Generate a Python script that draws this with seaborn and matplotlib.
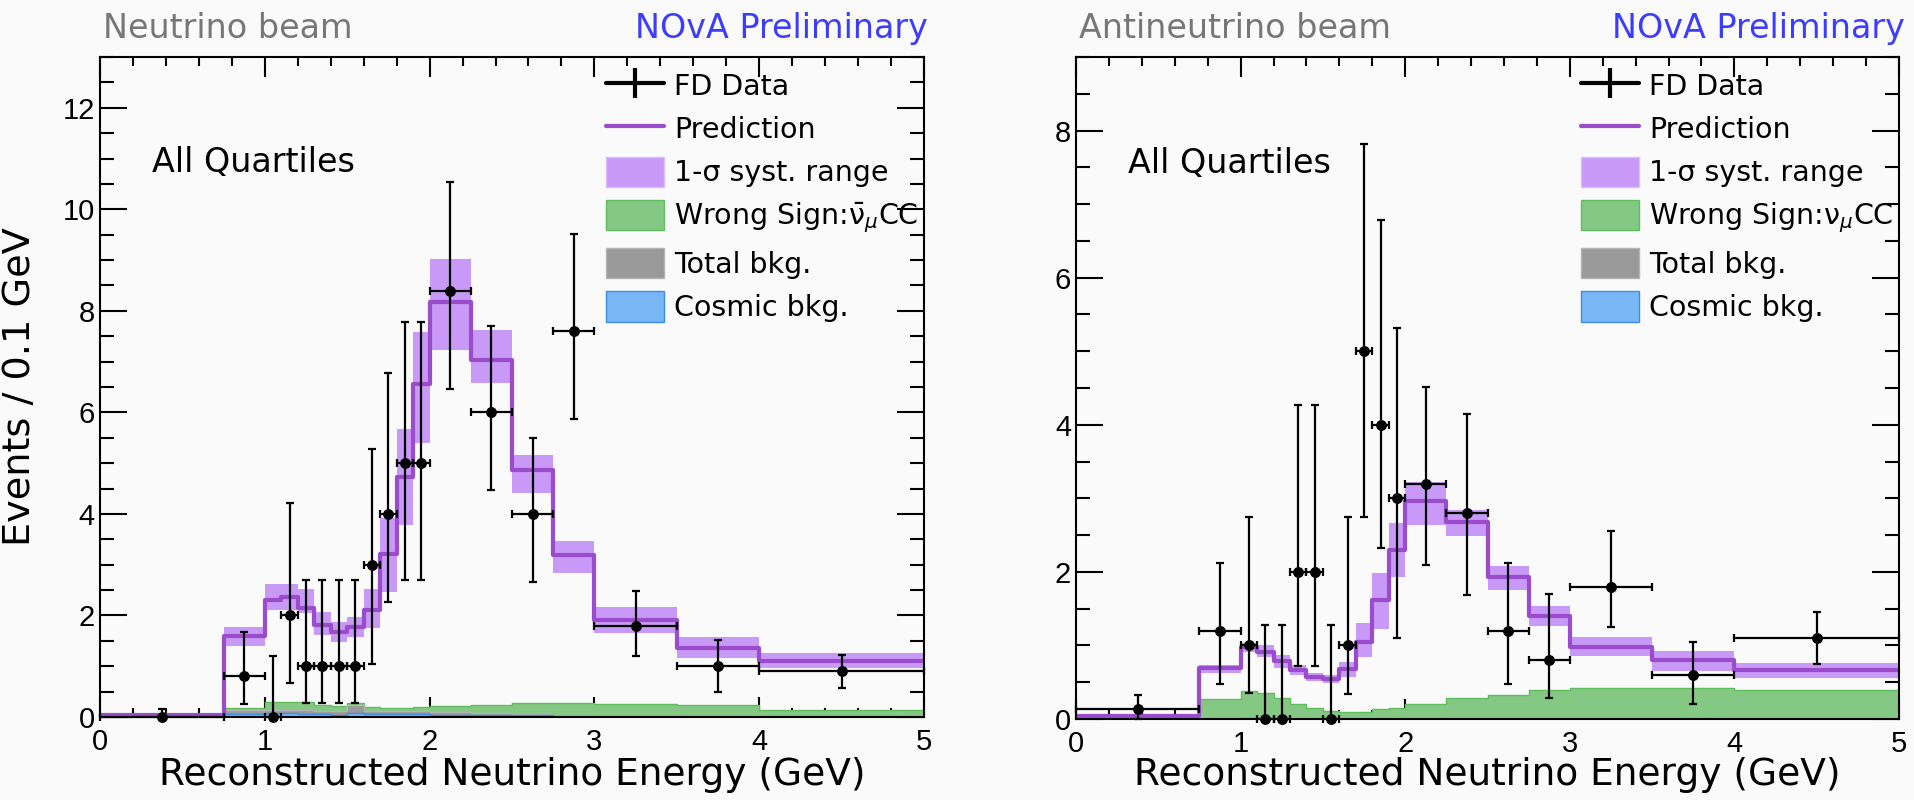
import numpy as np
import matplotlib
matplotlib.use("Agg")
import matplotlib.pyplot as plt
from matplotlib.lines import Line2D
from matplotlib.patches import Patch
from matplotlib.ticker import MultipleLocator
import seaborn as sns

# Reconstructed-energy binning (GeV), shared by both beams
edges = [0.0, 0.75, 1.0, 1.1, 1.2, 1.3, 1.4, 1.5, 1.6, 1.7, 1.8, 1.9, 2.0,
         2.25, 2.5, 2.75, 3.0, 3.5, 4.0, 5.0]

# ---- Neutrino beam ----
nu_pred = [0.04, 1.60, 2.30, 2.36, 2.14, 1.82, 1.68, 1.78, 2.11, 3.22, 4.73,
           6.55, 8.18, 7.04, 4.86, 3.20, 1.91, 1.36, 1.11]
nu_syst_lo = [0.02, 1.40, 2.11, 2.11, 2.04, 1.61, 1.48, 1.58, 1.75, 2.47, 3.78,
              5.40, 7.22, 6.57, 4.42, 2.84, 1.65, 1.16, 0.96]
nu_syst_hi = [0.06, 1.77, 2.62, 2.62, 2.53, 2.07, 1.88, 1.97, 2.53, 3.91, 5.68,
              7.58, 9.03, 7.62, 5.16, 3.47, 2.16, 1.57, 1.27]
nu_wrong_sign = [0.0, 0.17, 0.30, 0.30, 0.29, 0.24, 0.21, 0.27, 0.20, 0.17, 0.18,
                 0.19, 0.22, 0.23, 0.27, 0.27, 0.26, 0.24, 0.14]
nu_total_bkg = [0.0, 0.13, 0.14, 0.14, 0.13, 0.11, 0.12, 0.23, 0.11, 0.12, 0.11,
                0.11, 0.10, 0.08, 0.06, 0.0, 0.0, 0.0, 0.0]
nu_cosmic = [0.0, 0.05, 0.07, 0.07, 0.06, 0.05, 0.04, 0.08, 0.06, 0.06, 0.05,
             0.05, 0.04, 0.03, 0.03, 0.0, 0.0, 0.0, 0.0]
nu_data = [0.0, 0.8, 0.0, 2.0, 1.0, 1.0, 1.0, 1.0, 3.0, 4.0, 5.0, 5.0, 8.4,
           6.0, 4.0, 7.6, 1.8, 1.0, 0.9]
nu_data_lo = [0.0, 0.26, 0.0, 0.66, 0.28, 0.28, 0.28, 0.28, 1.04, 2.27, 2.70,
              2.70, 6.47, 4.48, 2.65, 5.87, 1.21, 0.50, 0.58]
nu_data_hi = [0.16, 1.68, 1.20, 4.22, 2.70, 2.70, 2.70, 2.70, 5.28, 6.77, 7.78,
              7.78, 10.53, 7.70, 5.49, 9.51, 2.49, 1.52, 1.22]

# ---- Antineutrino beam ----
anu_pred = [0.04, 0.69, 0.98, 0.91, 0.79, 0.67, 0.57, 0.54, 0.68, 1.05, 1.62,
            2.30, 2.96, 2.68, 1.93, 1.40, 0.98, 0.80, 0.66]
anu_syst_lo = [0.02, 0.62, 0.91, 0.84, 0.70, 0.60, 0.51, 0.49, 0.57, 0.84, 1.23,
               1.93, 2.64, 2.49, 1.76, 1.27, 0.85, 0.65, 0.56]
anu_syst_hi = [0.06, 0.74, 1.03, 1.00, 0.87, 0.73, 0.62, 0.60, 0.78, 1.31, 1.98,
               2.66, 3.22, 2.84, 2.08, 1.53, 1.12, 0.92, 0.76]
anu_wrong_sign = [0.0, 0.27, 0.38, 0.35, 0.29, 0.20, 0.15, 0.11, 0.09, 0.10, 0.13,
                  0.15, 0.20, 0.29, 0.32, 0.39, 0.42, 0.42, 0.39]
anu_total_bkg = [0.0, 0.01, 0.02, 0.02, 0.02, 0.01, 0.01, 0.02, 0.01, 0.01, 0.01,
                 0.01, 0.01, 0.01, 0.0, 0.0, 0.0, 0.0, 0.0]
anu_cosmic = [0.0, 0.0, 0.02, 0.02, 0.02, 0.0, 0.0, 0.02, 0.0, 0.0, 0.0,
              0.0, 0.0, 0.0, 0.0, 0.0, 0.0, 0.0, 0.0]
anu_data = [0.13, 1.2, 1.0, 0.0, 0.0, 2.0, 2.0, 0.0, 1.0, 5.0, 4.0, 3.0, 3.2,
            2.8, 1.2, 0.8, 1.8, 0.6, 1.1]
anu_data_lo = [0.0, 0.48, 0.35, 0.0, 0.0, 0.72, 0.72, 0.0, 0.34, 2.74, 2.33,
               1.10, 2.09, 1.68, 0.48, 0.29, 1.25, 0.20, 0.75]
anu_data_hi = [0.33, 2.12, 2.74, 1.28, 1.28, 4.27, 4.27, 1.28, 2.74, 7.82, 6.78,
               5.31, 4.52, 4.14, 2.12, 1.70, 2.55, 1.05, 1.46]

legend_labels_nu = ["FD Data", "Prediction", "1-\u03c3 syst. range",
                    r"Wrong Sign:$\bar{\mathrm{\nu}}_{\mu}$CC", "Total bkg.", "Cosmic bkg."]
legend_labels_anu = ["FD Data", "Prediction", "1-\u03c3 syst. range",
                     r"Wrong Sign:$\mathrm{\nu}_{\mu}$CC", "Total bkg.", "Cosmic bkg."]

# Colours
BG = "#fafafa"
PURPLE = "#9a4ccd"
BAND = "#c999f8"
BAND_EDGE = "#dcbcfb"
GREEN = "#84c884"
GREEN_EDGE = "#5fbf5f"
GREY = "#999999"
GREY_EDGE = "#b4b4b4"
BLUE = "#78b6f6"
BLUE_EDGE = "#3a8ee8"

sns.set_theme(style="ticks", rc={"axes.facecolor": BG, "figure.facecolor": BG,
                                 "text.color": "black", "axes.labelcolor": "black",
                                 "xtick.color": "black", "ytick.color": "black"})
plt.rcParams["font.family"] = ["DejaVu Sans"]
plt.rcParams["mathtext.fontset"] = "dejavusans"
plt.rcParams["axes.linewidth"] = 1.5

TICK_FONT = ["Liberation Sans", "DejaVu Sans"]

edges_a = np.asarray(edges)
centers = 0.5 * (edges_a[:-1] + edges_a[1:])
halfw = 0.5 * np.diff(edges_a)


def draw_panel(ax, pred, syst_lo, syst_hi, wrong, total, cosmic,
               data, data_lo, data_hi, ymax, labels):
    # 1-sigma systematic band around the prediction
    ax.stairs(syst_hi, edges_a, baseline=syst_lo, fill=True, color=BAND,
              lw=0, zorder=1)
    # backgrounds, each filled from zero
    for w, fc, ec in ((wrong, GREEN, GREEN_EDGE), (total, GREY, GREY_EDGE),
                      (cosmic, BLUE, BLUE_EDGE)):
        sns.histplot(x=centers, weights=w, bins=edges, element="step",
                     fill=True, color=fc, alpha=1.0, edgecolor=ec,
                     linewidth=1.0, ax=ax, zorder=2)
    # central prediction
    sns.histplot(x=centers, weights=pred, bins=edges, element="step",
                 fill=False, color=PURPLE, linewidth=3.0, ax=ax, zorder=3)
    # far-detector data
    d = np.asarray(data)
    yerr = [d - np.asarray(data_lo), np.asarray(data_hi) - d]
    ax.errorbar(centers, d, xerr=halfw, yerr=yerr, fmt="o", color="black",
                ms=6.8, elinewidth=1.6, capsize=3.0, capthick=1.6, zorder=5,
                clip_on=False)

    ax.set_xlim(0, 5)
    ax.set_ylim(0, ymax)
    ax.xaxis.set_major_locator(MultipleLocator(1))
    ax.xaxis.set_minor_locator(MultipleLocator(0.2))
    ax.yaxis.set_major_locator(MultipleLocator(2))
    ax.yaxis.set_minor_locator(MultipleLocator(0.5))
    ax.tick_params(which="both", direction="in", top=True, right=True,
                   width=1.5, color="black", labelsize=21)
    ax.tick_params(axis="x", which="major", length=14.4, pad=8.0)
    ax.tick_params(axis="x", which="minor", length=6.8)
    ax.tick_params(axis="y", which="major", length=19.2, pad=3.6)
    ax.tick_params(axis="y", which="minor", length=10)
    for lab in ax.get_xticklabels() + ax.get_yticklabels():
        lab.set_family(TICK_FONT)
    for s in ax.spines.values():
        s.set_linewidth(1.5)
        s.set_color("black")
        s.set_zorder(6)

    ax.set_ylabel("")
    ax.set_xlabel("Reconstructed Neutrino Energy (GeV)", fontsize=27)
    ax.xaxis.label.set_va("baseline")

    ax.text(0.063, 0.825, "All Quartiles", transform=ax.transAxes,
            fontsize=24, va="baseline", ha="left", color="black")

    handles = [
        (Line2D([0], [0], color="black", lw=3.0),
         Line2D([0], [0], color="black", marker="|", ms=22, mew=3.0, ls="none")),
        Line2D([0], [0], color=PURPLE, lw=3.0),
        Patch(facecolor=BAND, edgecolor=BAND_EDGE, lw=1.0),
        Patch(facecolor=GREEN, edgecolor=GREEN_EDGE, lw=1.0),
        Patch(facecolor=GREY, edgecolor=GREY_EDGE, lw=1.0),
        Patch(facecolor=BLUE, edgecolor=BLUE_EDGE, lw=1.0),
    ]
    leg = ax.legend(handles, labels, loc="upper left",
                    bbox_to_anchor=(0.614, 0.980), frameon=False,
                    fontsize=20.5, handlelength=2.04, handleheight=1.26,
                    handletextpad=0.35, labelspacing=0.44, borderpad=0,
                    borderaxespad=0)
    leg.set_zorder(7)


fig = plt.figure(figsize=(19.15, 8.0), dpi=100)
ax1 = fig.add_axes([100 / 1915, 83 / 800, 824 / 1915, 660 / 800])
ax2 = fig.add_axes([1076 / 1915, 81 / 800, 823 / 1915, 662 / 800])

draw_panel(ax1, nu_pred, nu_syst_lo, nu_syst_hi, nu_wrong_sign, nu_total_bkg,
           nu_cosmic, nu_data, nu_data_lo, nu_data_hi, 13, legend_labels_nu)
draw_panel(ax2, anu_pred, anu_syst_lo, anu_syst_hi, anu_wrong_sign,
           anu_total_bkg, anu_cosmic, anu_data, anu_data_lo, anu_data_hi, 9,
           legend_labels_anu)

ax1.xaxis.set_label_coords(0.5, -0.103)
ax2.xaxis.set_label_coords(0.5, -0.100)

ax1.set_ylabel("Events / 0.1 GeV", fontsize=27.5, va="center")
ax1.yaxis.set_label_coords(-0.097, 0.5)

# panel headers
fig.text(103 / 1915, 0.952, "Neutrino beam", color="#777777", fontsize=24,
         ha="left", va="baseline")
fig.text(928 / 1915, 0.952, "NOvA Preliminary", color="#3c3cff", fontsize=24,
         ha="right", va="baseline")
fig.text(1079 / 1915, 0.952, "Antineutrino beam", color="#777777", fontsize=24,
         ha="left", va="baseline")
fig.text(1905 / 1915, 0.952, "NOvA Preliminary", color="#3c3cff", fontsize=24,
         ha="right", va="baseline")

fig.savefig("out.png", dpi=100, facecolor=BG)
